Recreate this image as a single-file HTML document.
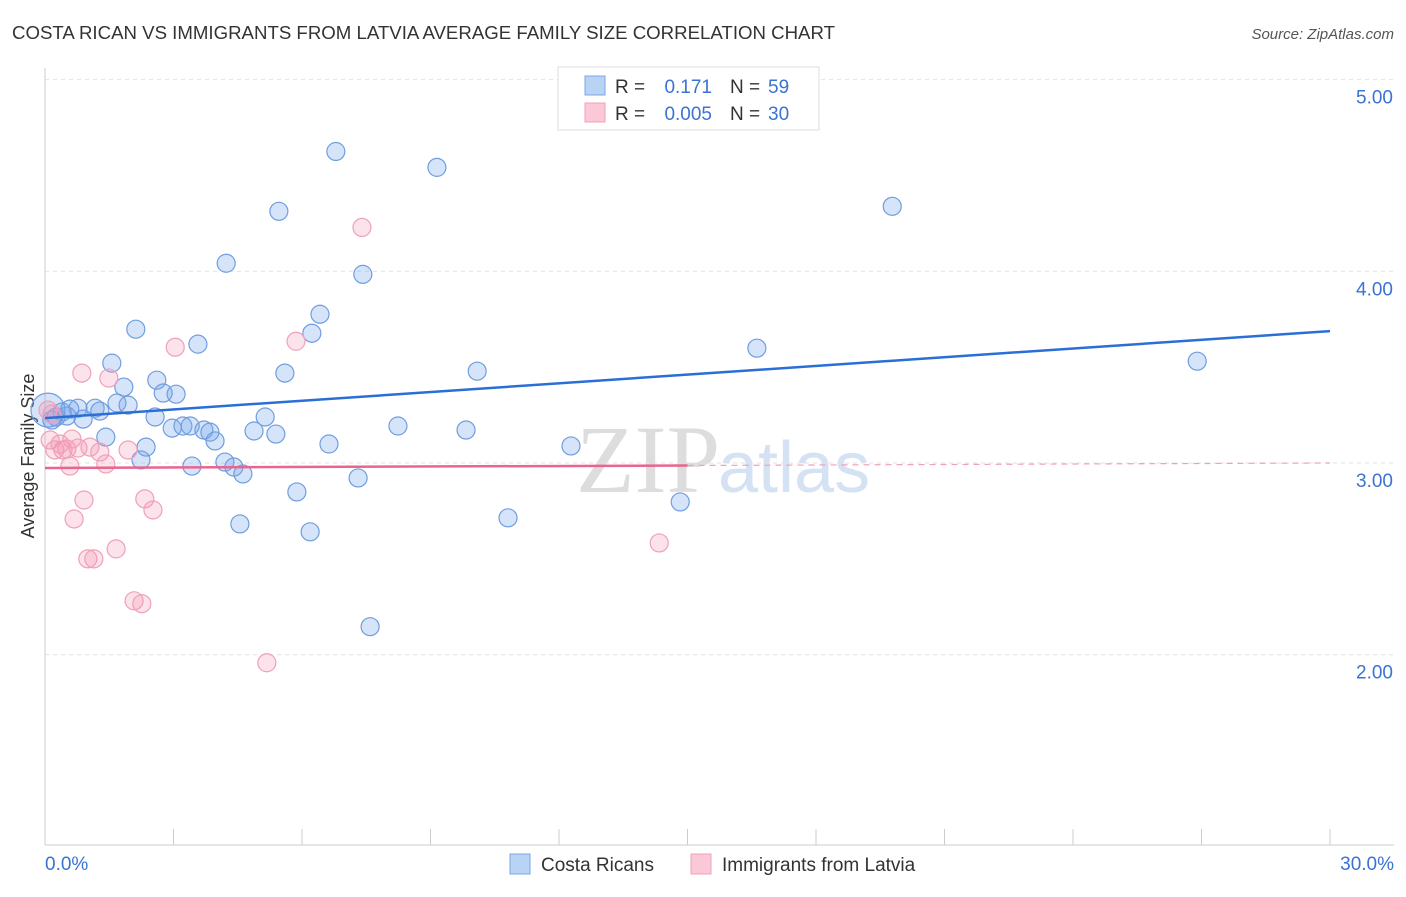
<!DOCTYPE html>
<html><head><meta charset="utf-8"><style>
body{margin:0;background:#fff;font-family:"Liberation Sans",sans-serif;}
</style></head><body>
<svg id="chart" width="1406" height="892" xmlns="http://www.w3.org/2000/svg">
<text x="12" y="39" font-size="18" fill="#333" textLength="823" lengthAdjust="spacingAndGlyphs">COSTA RICAN VS IMMIGRANTS FROM LATVIA AVERAGE FAMILY SIZE CORRELATION CHART</text>
<text x="1394" y="39" font-size="15" fill="#555" font-style="italic" text-anchor="end">Source: ZipAtlas.com</text>
<text x="34" y="456" font-size="18" fill="#333" text-anchor="middle" transform="rotate(-90 34 456)">Average Family Size</text>
<text x="720" y="492" font-size="96" fill="#ddd" text-anchor="end" font-family="Liberation Serif,serif">ZIP</text>
<text x="718" y="492" font-size="72" fill="#d4e2f4">atlas</text>
<g id="grid"></g><g id="axes"></g><g id="pts"></g><g id="lines"></g>
<g>
<rect x="558" y="67" width="261" height="63" fill="#fff" stroke="#ddd"/>
<rect x="585" y="76" width="20" height="19" fill="#b9d3f5" stroke="#7ba7e6"/>
<rect x="585" y="103" width="20" height="19" fill="#fbc8d7" stroke="#f0a0b8"/>
<text x="615" y="93" font-size="19" fill="#333">R =</text><text x="712" y="93" font-size="19" fill="#3b73d0" text-anchor="end">0.171</text>
<text x="730" y="93" font-size="19" fill="#333">N =</text><text x="768" y="93" font-size="19" fill="#3b73d0">59</text>
<text x="615" y="120" font-size="19" fill="#333">R =</text><text x="712" y="120" font-size="19" fill="#3b73d0" text-anchor="end">0.005</text>
<text x="730" y="120" font-size="19" fill="#333">N =</text><text x="768" y="120" font-size="19" fill="#3b73d0">30</text>
</g>
<g>
<rect x="510" y="854" width="20" height="20" fill="#b9d3f5" stroke="#7ba7e6"/>
<text x="541" y="871" font-size="19" fill="#333">Costa Ricans</text>
<rect x="691" y="854" width="20" height="20" fill="#fbc8d7" stroke="#f0a0b8"/>
<text x="722" y="871" font-size="19" fill="#333">Immigrants from Latvia</text>
</g>
</svg>
<script>
const yTicks=[2,3,4,5];
const yTickLabels=["2.00","3.00","4.00","5.00"];
const xTickLabels=["0.0%","30.0%"];
const blueX=[6.79,9.15,5.46,19.78,4.23,7.42,2.12,6.42,6.23,3.57,16.62,1.56,5.60,10.09,26.90,2.61,1.84,2.76,3.06,1.68,1.94,1.17,0.77,0.40,1.28,0.89,0.51,2.57,5.14,8.24,2.97,3.22,3.39,3.71,3.85,4.88,5.39,9.83,1.42,3.97,6.63,2.36,12.28,2.24,4.20,4.41,3.43,4.62,7.31,5.88,14.83,10.81,4.55,6.19,7.59,0.07,0.26,0.58,0.16];
const blueY=[4.625,4.542,4.313,4.339,4.042,3.984,3.698,3.776,3.677,3.620,3.599,3.521,3.469,3.479,3.531,3.432,3.396,3.365,3.359,3.313,3.302,3.286,3.286,3.266,3.271,3.229,3.245,3.240,3.240,3.193,3.182,3.193,3.193,3.172,3.161,3.167,3.151,3.172,3.135,3.115,3.099,3.083,3.089,3.016,3.005,2.979,2.984,2.943,2.922,2.849,2.797,2.714,2.682,2.641,2.146,3.276,3.240,3.281,3.224];
const pinkX=[7.40,5.86,3.04,0.86,1.49,0.16,0.12,0.63,1.05,0.23,0.42,0.77,0.51,1.28,1.94,1.42,0.58,0.91,2.33,2.52,0.68,1.66,1.00,1.14,14.34,2.08,2.26,5.18,0.35,0.07];
const pinkY=[4.229,3.635,3.604,3.469,3.443,3.255,3.120,3.125,3.083,3.068,3.068,3.078,3.073,3.057,3.068,2.995,2.984,2.807,2.813,2.755,2.708,2.552,2.500,2.500,2.583,2.281,2.266,1.958,3.099,3.276];
const blueTrend=[3.234,3.688];
const pinkTrend=[2.974,3.0];
const NS="http://www.w3.org/2000/svg";
const sx=v=>45+v*(1285/30), sy=v=>463-(v-3)*191.7;
function mk(t,a,p){const e=document.createElementNS(NS,t);for(const k in a)e.setAttribute(k,a[k]);document.getElementById(p).appendChild(e);return e;}
yTicks.forEach((t,i)=>{
 const l=mk('line',{x1:45,x2:1394,y1:sy(t),y2:sy(t),stroke:'#e2e2e2','stroke-dasharray':'4,4'},'grid');
 
 
 const tx=mk('text',{x:1393,y:sy(t)+24,'font-size':19,fill:'#3b73d0','text-anchor':'end'},'grid');
 tx.textContent=yTickLabels[i];
 
 
});
const ax=mk('line',{x1:45,x2:45,y1:68,y2:845,stroke:'#ccc'},'axes');


const bx=mk('line',{x1:45,x2:1394,y1:845,y2:845,stroke:'#ccc'},'axes');


for(let i=0;i<=10;i++){const t=mk('line',{x1:sx(i*3),x2:sx(i*3),y1:829,y2:845,stroke:'#ccc'},'axes');
 
 }
[[0,'start',45],[30,'end',1394]].forEach((d,i)=>{const t=mk('text',{x:d[2],y:870,'font-size':19,fill:'#3b73d0','text-anchor':d[1]},'axes');t.textContent=xTickLabels[i];
 
 });
blueX.forEach((x,i)=>{const r=(i===55)?17:9;const c=mk('circle',{cx:sx(x),cy:sy(blueY[i]),r:r,fill:'rgba(120,165,235,0.3)',stroke:'#6f9de0','stroke-width':1.2},'pts');
 
 });
pinkX.forEach((x,i)=>{const c=mk('circle',{cx:sx(x),cy:sy(pinkY[i]),r:9,fill:'rgba(245,150,180,0.28)',stroke:'#f0a0b8','stroke-width':1.2},'pts');
 
 });
const bl=mk('line',{x1:sx(0),x2:sx(30),y1:sy(blueTrend[0]),y2:sy(blueTrend[1]),stroke:'#2a6fd6','stroke-width':2.5},'lines');


const pm=pinkTrend[0]+(pinkTrend[1]-pinkTrend[0])*0.5;
const pl=mk('line',{x1:sx(0),x2:sx(15),y1:sy(pinkTrend[0]),y2:sy(pm),stroke:'#e8668e','stroke-width':2.5},'lines');


const pd=mk('line',{x1:sx(15),x2:sx(30),y1:sy(pm),y2:sy(pinkTrend[1]),stroke:'#f0a0b8','stroke-width':1.2,'stroke-dasharray':'6,5'},'lines');


</script>
</body></html>
